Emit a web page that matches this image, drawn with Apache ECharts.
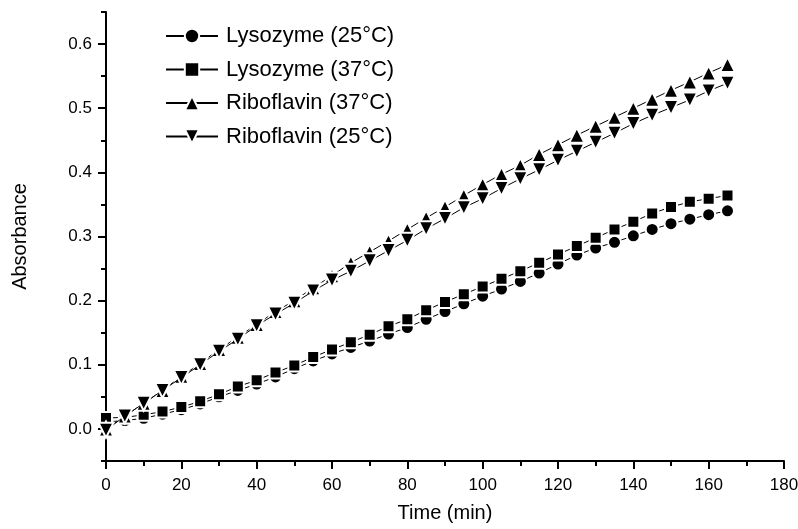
<!DOCTYPE html>
<html>
<head>
<meta charset="utf-8">
<script src="https://cdn.jsdelivr.net/npm/echarts@6/dist/echarts.min.js"></script>
<style>html,body{margin:0;padding:0;background:#fff}#c{width:798px;height:529px}</style>
</head>
<body>
<div id="c"></div>
<script>
const time = [0,5,10,15,20,25,30,35,40,45,50,55,60,65,70,75,80,85,90,95,100,105,110,115,120,125,130,135,140,145,150,155,160,165];
const lys25 = [0.011,0.013,0.0166,0.023,0.030,0.039,0.050,0.060,0.070,0.081,0.094,0.106,0.117,0.127,0.137,0.148,0.158,0.171,0.183,0.195,0.207,0.218,0.230,0.243,0.257,0.271,0.282,0.291,0.301,0.311,0.320,0.327,0.334,0.340];
const lys37 = [0.017,0.018,0.022,0.027,0.034,0.043,0.054,0.066,0.076,0.088,0.099,0.112,0.124,0.135,0.147,0.160,0.171,0.185,0.198,0.210,0.222,0.234,0.246,0.259,0.272,0.285,0.298,0.311,0.323,0.336,0.346,0.354,0.359,0.364];
const ribo37 = [0.000,0.020,0.040,0.060,0.082,0.102,0.124,0.143,0.163,0.183,0.200,0.220,0.239,0.259,0.276,0.293,0.311,0.329,0.346,0.364,0.381,0.397,0.411,0.428,0.443,0.458,0.472,0.486,0.500,0.514,0.528,0.541,0.555,0.568];
const ribo25 = [-0.002,0.020,0.040,0.060,0.080,0.100,0.121,0.140,0.161,0.179,0.196,0.215,0.232,0.246,0.262,0.278,0.294,0.312,0.328,0.345,0.359,0.375,0.390,0.404,0.419,0.433,0.447,0.461,0.476,0.489,0.501,0.513,0.527,0.539];
const yMajorTicks = [0,0.1,0.2,0.3,0.4,0.5,0.6];
const names = ['Lysozyme (25°C)','Lysozyme (37°C)','Riboflavin (37°C)','Riboflavin (25°C)'];

const FONT = 'Liberation Sans, Arial, Helvetica, sans-serif';
function pairs(arr){ return time.map((t,i)=>[t,arr[i]]); }
function mk(name, data, symbol, size, rotate, z){
  return {
    name: name, type: 'line', data: pairs(data),
    symbol: symbol, symbolSize: size, symbolRotate: rotate || 0,
    showSymbol: true, z: z,
    lineStyle: {color:'#000', width:1},
    itemStyle: {color:'#000', borderColor:'#fff', borderWidth:2},
    emphasis: {disabled:true}, animation:false
  };
}
const chart = echarts.init(document.getElementById('c'), null, {renderer:'canvas'});
chart.setOption({
  backgroundColor:'#fff',
  animation:false,
  grid:{left:106, right:14, top:12, bottom:68, containLabel:false, outerBoundsMode:'none'},
  legend:{
    orient:'vertical', left:165, top:25, itemGap:11.5, padding:0,
    itemWidth:52, itemHeight:18,
    textStyle:{fontFamily:FONT, fontSize:22, color:'#000', padding:[0,0,0,3]},
    data:names
  },
  xAxis:[{
    type:'value', min:0, max:180, interval:20,
    name:'Time (min)', nameLocation:'middle', nameGap:42,
    nameTextStyle:{fontFamily:FONT, fontSize:20, color:'#000'},
    axisLine:{show:true, onZero:false, lineStyle:{color:'#000', width:2}},
    axisTick:{show:true, inside:false, length:8, lineStyle:{color:'#000', width:2}},
    minorTick:{show:true, splitNumber:2, length:5, lineStyle:{color:'#000', width:2}},
    axisLabel:{fontFamily:FONT, fontSize:17, color:'#000', margin:16},
    splitLine:{show:false}
  }],
  yAxis:[{
    type:'value', min:-0.05, max:0.65, interval:0.05,
    name:'Absorbance', nameLocation:'middle', nameGap:76, nameRotate:90,
    nameTextStyle:{fontFamily:FONT, fontSize:20, color:'#000'},
    axisLine:{show:true, onZero:false, lineStyle:{color:'#000', width:2}},
    axisTick:{show:true, inside:false, length:5, lineStyle:{color:'#000', width:2}},
    axisLabel:{fontFamily:FONT, fontSize:17, color:'#000', margin:14,
      formatter:function(v){ const k=Math.round(v*100); return (k%10===0)? (k/100).toFixed(1) : ''; }},
    splitLine:{show:false}
  },{
    type:'value', min:-0.05, max:0.65, position:'left',
    axisLine:{show:false},
    axisTick:{show:true, inside:false, length:8, customValues:yMajorTicks, lineStyle:{color:'#000', width:2}},
    axisLabel:{show:false},
    splitLine:{show:false}
  }],
  series:[
    mk(names[0], lys25, 'circle', 13, 0, 3),
    mk(names[1], lys37, 'rect', 12, 0, 4),
    mk(names[2], ribo37, 'triangle', 15, 0, 5),
    mk(names[3], ribo25, 'triangle', 15, 180, 6)
  ]
});
</script>
</body>
</html>
